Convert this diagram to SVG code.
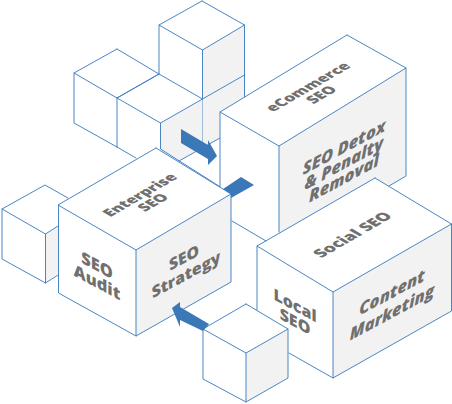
<svg xmlns="http://www.w3.org/2000/svg" width="452" height="404" viewBox="0 0 452 404">
<style>
.g{fill:#f2f2f2;stroke:none}
.w{fill:#fff;stroke:none}
.l{fill:none;stroke:#4080c0;stroke-width:.95;stroke-linejoin:round;stroke-linecap:round}
.a{fill:#3b78b8;stroke:none}
text{font-family:"Open Sans","Noto Sans",sans-serif;font-weight:800;fill:#707070;font-size:14.800px;text-anchor:middle}
.i{font-style:italic}
</style>
<g id="cube-top">
<polygon class="g" points="202.5,50 244.5,25 244.5,110 220,138 202.5,148"/>
<path class="l" d="M202,1 159,25 202.5,50 244.5,25 202,1M159,25V74M202.5,50V148M244.5,25V97M202.5,99 244.5,75"/>
</g>
<g id="cube-left">
<path class="l" d="M117,49 74,73 117,98 159,74 117,49M74,73V123L117,147M117,98V147"/>
</g>
<g id="cube-mid">
<polygon class="g" points="160.5,123 202.5,99 202.5,148 179,161 160.5,149"/>
<path class="l" d="M159,74 117,98 160.5,123 202.5,99 159,74M117,147 136,158M160.5,123V149L222,188M179,161 220,138"/>
</g>
<g id="cube-ecommerce">
<polygon class="w" points="347,35 220,112 279,146 406,68"/>
<polygon class="w" points="220,112 279,146 279,232 220,197"/>
<polygon class="g" points="279,146 406,68 406,176 279,250"/>
<path class="l" d="M347,35 220,112 279,146 406,68 347,35M220,112V187M279,146V232M406,68V176L389,186"/>
<text transform="matrix(.866,-.5,.866,.5,308,87)"><tspan x="0" y="5">eCommerce</tspan><tspan x="0" y="20.5">SEO</tspan></text>
<text class="i" transform="matrix(1,-.54,0,1,344,147)" style="font-size:16.500px"><tspan x="0" y="6">SEO Detox</tspan><tspan x="0" y="22">&amp; Penalty</tspan><tspan x="0" y="37">Removal</tspan></text>
</g>
<g id="cube-far-left">
<polygon class="w" points="45,185 2,209 45,234 68,220 68,198"/>
<polygon class="g" points="45.5,234 58,226 58,273 45.5,283"/>
<path class="l" d="M68,198 45,185 2,209 45.5,234 58,226M2,209V259L45.5,283 58,275M45.5,234V283"/>
</g>
<g id="cube-enterprise">
<polygon class="w" points="156,148 58,205 136,250 231,194"/>
<polygon class="w" points="58,205 136,250 136,336 58,293"/>
<polygon class="g" points="136,250 231,194 231,282 136,336"/>
<path class="l" d="M156,148 58,205 136,250 231,194 156,148M58.500,205V293L136,336M136,250V336L231,282V194"/>
<text transform="matrix(.866,-.5,.866,.5,140,195)"><tspan x="0" y="5">Enterprise</tspan><tspan x="0" y="20">SEO</tspan></text>
<text transform="matrix(1,.54,0,1,97,265)" style="font-size:16.500px"><tspan x="0" y="6">SEO</tspan><tspan x="0" y="23">Audit</tspan></text>
<text transform="matrix(1,-.54,.12,1,184,257)" style="font-size:15.500px"><tspan x="0" y="6">SEO</tspan><tspan x="0" y="23">Strategy</tspan></text>
</g>
<g id="cube-social">
<polygon class="w" points="375,178 257,246 333,292 451.500,224"/>
<polygon class="w" points="257,246 333,292 333,378 257,334"/>
<polygon class="g" points="333,292 451.500,224 451.500,311 333,378"/>
<path class="l" d="M375,178 257,246 333,292 451.500,224 375,178M257,246V310M333,292V378L451.500,311V224M289,353 333,378M232,221 266,241"/>
<text transform="matrix(.866,-.5,.866,.5,353,235)" style="font-size:16px"><tspan x="0" y="5">Social SEO</tspan></text>
<text transform="matrix(1,.54,0,1,295,305)" style="font-size:16px"><tspan x="0" y="6">Local</tspan><tspan x="0" y="22">SEO</tspan></text>
<text class="i" transform="matrix(1,-.54,0,1,392,292)" style="font-size:16.500px"><tspan x="0" y="6">Content</tspan><tspan x="0" y="26">Marketing</tspan></text>
</g>
<g id="cube-bottom">
<polygon class="w" points="246,304 203,329 203,379 246,402 246,353"/>
<polygon class="w" points="246,304 203,329 246,353 288,329"/>
<polygon class="g" points="246,353 288,329 288,378 246,402"/>
<path class="l" d="M246,304 203,329 246,353 288,329 246,304M203,329V379L246,402 288,378V329M246,353V402"/>
</g>
<g id="connectors">
<polygon class="a" points="181,129 208,145 208,140 217,156 208,165 208,159 181,143"/>
<polygon class="a" points="223,189 241,177 254,185 231,198 231,194"/>
<polygon class="a" points="172,308 180,302 180,307 209,324 203,331 180,320 180,327"/>
</g>
</svg>
